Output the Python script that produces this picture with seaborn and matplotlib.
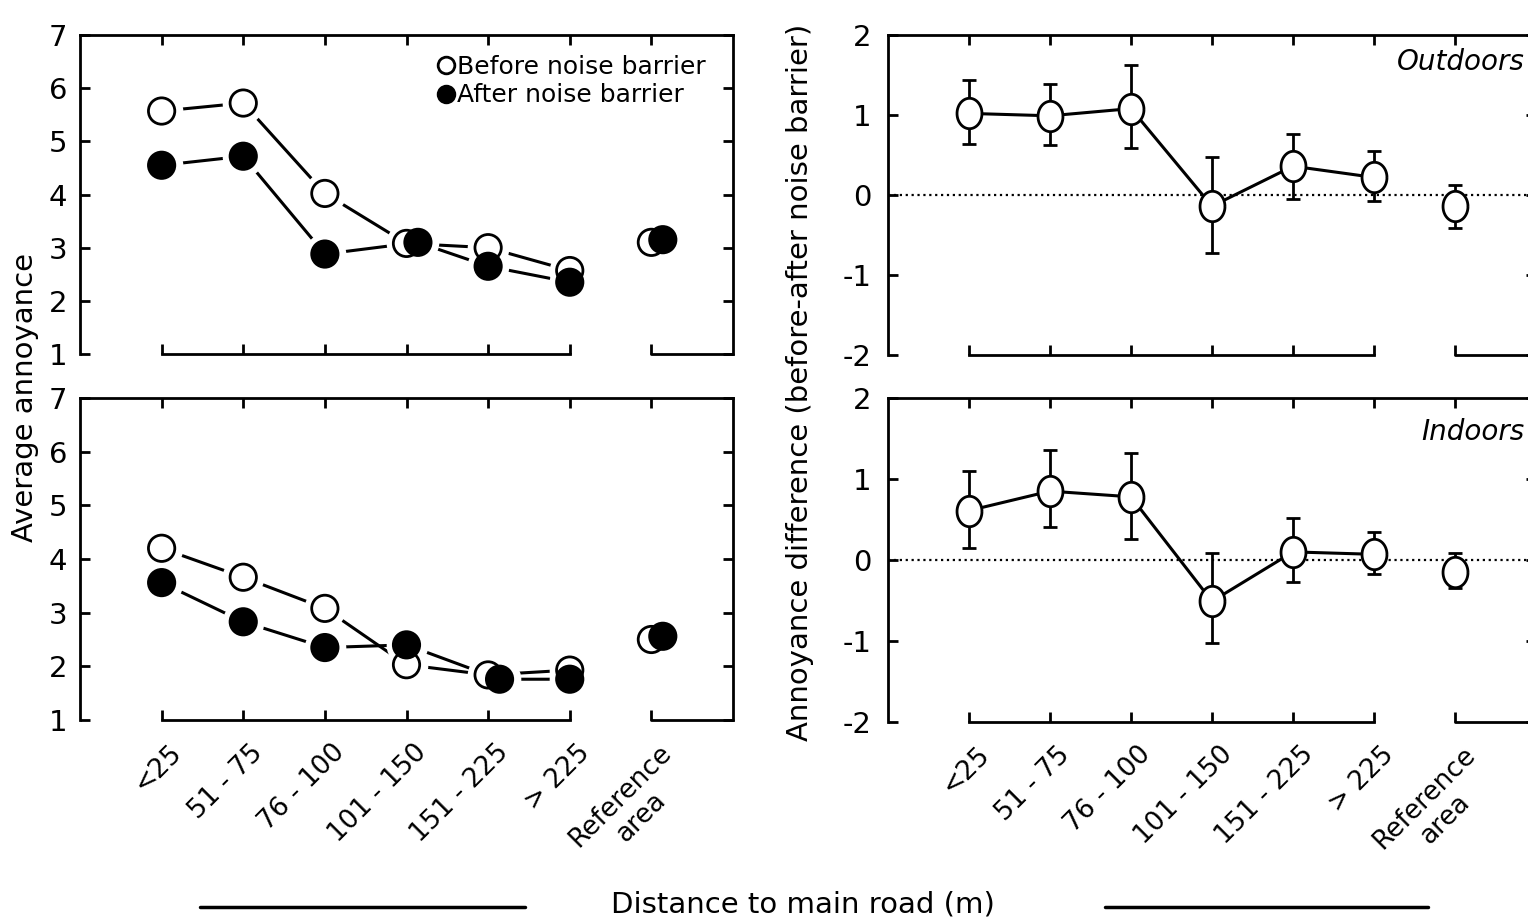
import numpy as np
import pandas as pd
import matplotlib
matplotlib.use('Agg')
import matplotlib.pyplot as plt
import seaborn as sns
from matplotlib.lines import Line2D
from matplotlib.markers import MarkerStyle
from matplotlib.transforms import ScaledTranslation

# distance bands on the x axis
distance_bands = ['<25', '51 - 75', '76 - 100', '101 - 150', '151 - 225', '> 225', 'Reference\narea']

# average annoyance outdoors (top left)
out_before = [5.57, 5.72, 4.02, 3.08, 3.00, 2.57, 3.10]
out_after = [4.55, 4.72, 2.88, 3.10, 2.65, 2.35, 3.15]

# average annoyance indoors (bottom left)
in_before = [4.20, 3.66, 3.08, 2.03, 1.84, 1.93, 2.50]
in_after = [3.56, 2.83, 2.35, 2.40, 1.76, 1.76, 2.56]

# annoyance difference (before - after) with error bar limits
out_diff = [1.02, 0.99, 1.08, -0.14, 0.36, 0.22, -0.14]
out_low = [0.64, 0.62, 0.59, -0.72, -0.05, -0.08, -0.41]
out_high = [1.44, 1.39, 1.63, 0.48, 0.76, 0.55, 0.13]

in_diff = [0.61, 0.85, 0.78, -0.51, 0.10, 0.07, -0.15]
in_low = [0.15, 0.41, 0.26, -1.03, -0.27, -0.17, -0.34]
in_high = [1.10, 1.36, 1.32, 0.09, 0.52, 0.34, 0.09]

sns.set_theme(style='ticks')
plt.rcParams['font.family'] = ['DejaVu Sans']
plt.rcParams['axes.linewidth'] = 2
plt.rcParams['axes.unicode_minus'] = False
plt.rcParams['text.color'] = 'black'
plt.rcParams['axes.labelcolor'] = 'black'

W, H = 1528, 923
fig = plt.figure(figsize=(W / 100, H / 100), dpi=100)


def box(left, top, right, bottom):
    # pixel box -> figure fraction
    return [left / W, 1 - bottom / H, (right - left) / W, (bottom - top) / H]


def frame(ax, ylim, yticks, show_labels, ypad):
    ax.set_xlim(-1, 7)
    ax.set_ylim(*ylim)
    ax.set_xticks(range(len(distance_bands)))
    ax.set_yticks(yticks)
    ax.set_xlabel('')
    ax.set_ylabel('')
    ax.tick_params(direction='in', top=True, right=True, length=7, width=2,
                   labelsize=21, colors='black')
    ax.tick_params(axis='y', pad=ypad)
    for s in ax.spines.values():
        s.set_visible(True)
        s.set_linewidth(2)
        s.set_color('black')
    ax.spines['bottom'].set_bounds(0, 5)
    ax.plot([6, 7], [ylim[0], ylim[0]], color='black', lw=2, clip_on=False, zorder=5)
    if show_labels:
        ax.set_xticklabels(distance_bands, rotation=45, ha='right', va='top',
                           rotation_mode='anchor', multialignment='center', fontsize=19)
        ax.tick_params(axis='x', pad=14)
        shift = ScaledTranslation(0.07, 0, fig.dpi_scale_trans)
        for lab in ax.get_xticklabels():
            lab.set_transform(lab.get_transform() + shift)
    else:
        ax.set_xticklabels([])


def annoyance_panel(ax, before, after):
    pos = np.arange(len(distance_bands))
    df = pd.DataFrame({'pos': np.concatenate([pos, pos]),
                       'value': before + after,
                       'period': ['Before'] * len(pos) + ['After'] * len(pos)})
    # nudge the filled marker right where the two points would sit on top of each other
    close = np.tile(np.abs(np.array(before) - np.array(after)) < 0.15, 2)
    df['x'] = df['pos'] + np.where((df['period'] == 'After') & close, 0.14, 0.0)
    lines = df[df['pos'] < 6]
    sns.lineplot(data=lines, x='x', y='value', units='period', estimator=None,
                 color='black', lw=2.2, ax=ax, zorder=2)
    # white halo gives the gap between line and marker
    sns.scatterplot(data=df, x='x', y='value', color='white', s=900, linewidth=0,
                    ax=ax, zorder=3, legend=False)
    sns.scatterplot(data=df, x='x', y='value', hue='period',
                    palette={'Before': 'white', 'After': 'black'},
                    edgecolor='black', linewidth=2, s=360, ax=ax, zorder=4, legend=False)


t = np.linspace(0, 2 * np.pi, 60)
oval = MarkerStyle(np.column_stack([0.82 * np.cos(t), np.sin(t)]))


def difference_panel(ax, diff, low, high):
    pos = np.arange(len(distance_bands))
    df = pd.DataFrame({'pos': pos, 'diff': diff, 'low': low, 'high': high})
    ax.axhline(0, ls=':', lw=1.6, color='black', zorder=1)
    ax.errorbar(df['pos'], df['diff'], yerr=[df['diff'] - df['low'], df['high'] - df['diff']],
                fmt='none', ecolor='black', elinewidth=2, capsize=5, capthick=2, zorder=2)
    sns.lineplot(data=df[df['pos'] < 6], x='pos', y='diff', color='black', lw=2.2,
                 ax=ax, zorder=3)
    sns.scatterplot(data=df, x='pos', y='diff', marker=oval, color='white',
                    edgecolor='black', linewidth=2, s=480, ax=ax, zorder=4, legend=False)


ax1 = fig.add_axes(box(80, 35, 733, 354))
annoyance_panel(ax1, out_before, out_after)
frame(ax1, (1, 7), range(1, 8), False, 9)

ax2 = fig.add_axes(box(80, 398, 733, 720))
annoyance_panel(ax2, in_before, in_after)
frame(ax2, (1, 7), range(1, 8), True, 9)

ax3 = fig.add_axes(box(888, 35, 1536, 355))
difference_panel(ax3, out_diff, out_low, out_high)
frame(ax3, (-2, 2), range(-2, 3), False, 12)

ax4 = fig.add_axes(box(888, 398, 1536, 722))
difference_panel(ax4, in_diff, in_low, in_high)
frame(ax4, (-2, 2), range(-2, 3), True, 12)

handles = [Line2D([], [], ls='none', marker='o', ms=12, mfc='white', mec='black', mew=2),
           Line2D([], [], ls='none', marker='o', ms=12, mfc='black', mec='black', mew=2)]
ax1.legend(handles, ['Before noise barrier', 'After noise barrier'], loc='upper right',
           bbox_to_anchor=(718 / W, 1 - 42 / H), bbox_transform=fig.transFigure,
           frameon=False, fontsize=18, handlelength=0.6, handletextpad=0.15,
           labelspacing=0.2, borderpad=0)

fig.text(1525 / W, 1 - 62 / H, 'Outdoors', ha='right', va='center', style='italic', fontsize=20)
fig.text(1525 / W, 1 - 432 / H, 'Indoors', ha='right', va='center', style='italic', fontsize=20)

fig.text(25 / W, 1 - 397 / H, 'Average annoyance', rotation=90, ha='center', va='center', fontsize=21)
fig.text(800 / W, 1 - 382 / H, 'Annoyance difference (before-after noise barrier)',
         rotation=90, ha='center', va='center', fontsize=21)

fig.text(803 / W, 1 - 905 / H, 'Distance to main road (m)', ha='center', va='center', fontsize=21)
fig.add_artist(Line2D([200 / W, 525 / W], [1 - 907 / H] * 2, lw=2.5, color='black'))
fig.add_artist(Line2D([1105 / W, 1428 / W], [1 - 907 / H] * 2, lw=2.5, color='black'))

fig.savefig('out.png', dpi=100)
